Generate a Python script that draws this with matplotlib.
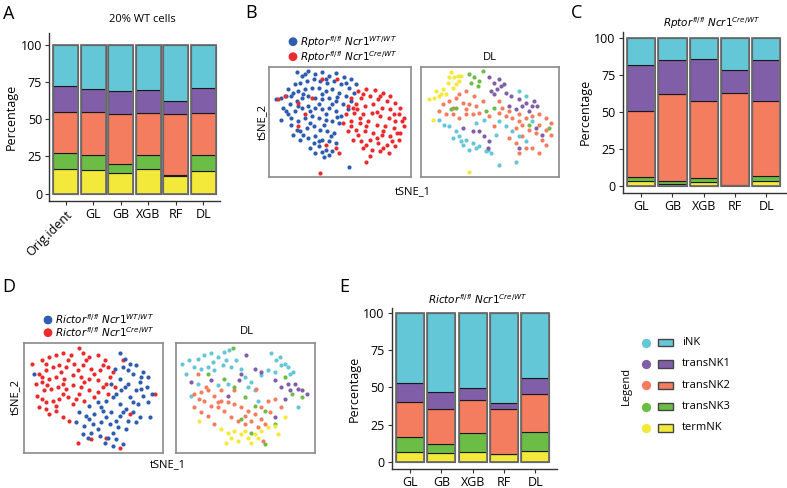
import numpy as np
import matplotlib
matplotlib.use('Agg')
import matplotlib.pyplot as plt
from matplotlib.patches import Rectangle

plt.rcParams['font.family'] = ['Open Sans', 'DejaVu Sans']
plt.rcParams['mathtext.fontset'] = 'dejavusans'

W, H = 787, 488

classes = ['termNK', 'transNK3', 'transNK2', 'transNK1', 'iNK']
colors = ['#F3E93A', '#6BBD45', '#F47C5F', '#815FA8', '#64C7D7']
legend_order = ['iNK', 'transNK1', 'transNK2', 'transNK3', 'termNK']

# panel A: 20% WT cells (termNK, transNK3, transNK2, transNK1, iNK)
a_labels = ['Orig.ident', 'GL', 'GB', 'XGB', 'RF', 'DL']
a_term = [16.4, 16.0, 13.5, 16.4, 11.9, 15.0]
a_tr3 = [11.2, 9.8, 6.1, 9.4, 0.3, 10.8]
a_tr2 = [27.0, 28.8, 34.1, 28.6, 41.5, 28.6]
a_tr1 = [17.5, 15.7, 15.5, 15.5, 8.8, 16.4]
a_ink = [27.9, 29.7, 30.8, 30.1, 37.5, 29.2]

# panel C: Rptor
c_labels = ['GL', 'GB', 'XGB', 'RF', 'DL']
c_term = [3.2, 1.4, 2.7, 0.5, 3.2]
c_tr3 = [3.3, 1.8, 2.7, 0.2, 4.0]
c_tr2 = [44.4, 59.4, 52.0, 62.6, 50.2]
c_tr1 = [30.9, 22.5, 28.9, 15.5, 27.7]
c_ink = [18.2, 14.9, 13.7, 21.2, 14.9]

# panel E: Rictor
e_labels = ['GL', 'GB', 'XGB', 'RF', 'DL']
e_term = [6.3, 5.6, 6.7, 4.9, 7.4]
e_tr3 = [10.6, 6.1, 12.4, 0.3, 12.8]
e_tr2 = [23.5, 24.0, 22.2, 30.1, 25.2]
e_tr1 = [12.4, 11.5, 8.1, 4.0, 10.8]
e_ink = [47.2, 52.8, 50.6, 60.7, 43.8]

# tSNE points (box coords, y down)
b_blue = [(85,25),(100,35),(120,22),(140,30),(160,25),(180,35),(200,28),(225,40),(245,45),(260,60),
          (60,75),(80,60),(95,55),(115,50),(135,45),(155,50),(175,55),(195,50),(215,60),(240,70),(255,85),
          (25,105),(40,100),(55,95),(75,85),(90,80),(110,75),(130,70),(150,72),(170,80),(190,75),(210,85),(230,95),(245,110),
          (45,130),(65,120),(85,110),(100,100),(120,95),(140,100),(160,105),(180,100),(200,110),(220,120),(235,135),
          (40,165),(60,150),(80,140),(100,130),(120,125),(140,130),(160,135),(180,130),(200,140),(215,155),
          (70,180),(90,170),(110,160),(130,155),(150,160),(170,165),(190,170),(210,175),
          (75,210),(95,200),(115,190),(135,185),(155,195),(175,200),(195,205),
          (95,225),(120,220),(140,215),(160,225),(180,230),(200,235),
          (125,250),(150,245),(170,255),(190,260),(140,265),(165,275),(238,305),
          (110,30),(170,45),(230,55),(70,95),(105,88),(160,88),(205,98),(55,140),(90,125),(150,118),(190,120),
          (70,160),(125,140),(170,148),(205,158),(85,195),(125,175),(165,180),(105,210),(150,230),(185,215),
          (135,235),(160,262),(180,270)]
b_red = [(265,80),(290,75),(315,78),(340,85),(360,95),(245,100),(275,100),(300,95),(325,105),(350,110),(375,115),(390,130),
         (235,125),(260,120),(285,125),(310,120),(335,130),(360,135),(385,150),(400,160),
         (230,150),(255,145),(280,150),(305,145),(330,155),(355,160),(375,170),(400,185),
         (220,175),(245,170),(270,175),(295,170),(320,180),(345,185),(370,190),(390,205),
         (235,200),(260,195),(285,200),(310,205),(335,210),(360,215),(385,225),
         (250,225),(275,230),(300,225),(325,235),(350,240),(375,245),
         (280,250),(305,255),(330,260),(355,265),(300,272),(290,292),(155,323),
         (30,105),(50,95),(90,115),(160,45),(205,45),(130,100),(110,150),(90,185),(200,250),(210,265),(170,240),(250,130),
         (280,88),(330,95),(262,135),(320,142),(372,150),(245,185),(290,185),(340,198),(380,205),(265,210),
         (320,220),(365,230),(290,240),(340,250),(395,170),(270,160)]

b_dl = {
    'termNK': [(95,25),(105,40),(120,50),(85,55),(70,75),(50,80),(30,105),(45,100),(60,95),(80,90),(100,70),
               (110,60),(90,40),(125,35),(40,165),(150,322),(115,35),(65,90)],
    'transNK3': [(150,30),(165,40),(155,55),(180,50),(110,130),(95,135),(225,130),(200,140),(330,180),(390,190),
                 (190,20),(175,65)],
    'transNK1': [(210,40),(225,55),(240,45),(255,60),(235,75),(215,80),(260,85),(275,95),(300,105),(320,115),
                 (345,110),(355,125),(270,125),(290,135),(330,140),(195,215),(210,230),(205,250),(180,200),
                 (160,200),(370,210),(300,250),(130,190),(350,190),(245,65),(225,90),(310,125),(340,125)],
    'iNK': [(100,220),(120,215),(140,225),(160,235),(180,245),(200,260),(215,265),(150,255),(130,240),(110,200),
            (90,185),(75,180),(60,165),(240,170),(260,185),(280,200),(300,215),(320,230),(240,300),(290,290),
            (230,210),(195,165),(170,175),(300,80),(320,95),(340,170),(125,230),(170,250),(205,255)],
    'transNK2': [(70,120),(90,110),(110,100),(130,115),(150,120),(170,125),(190,110),(60,140),(80,150),(100,150),
                 (120,160),(140,150),(160,150),(180,145),(210,155),(240,145),(260,155),(280,160),(300,150),(320,160),
                 (340,155),(360,150),(380,160),(395,175),(250,130),(270,140),(310,180),(330,195),(350,205),(370,225),
                 (380,240),(290,190),(310,215),(270,220),(340,250),(360,265),(395,210),(300,265),(120,90),(140,80),
                 (165,95),(240,110),(225,185),(290,235),(100,130),(140,135),(300,170),(360,180),(380,195),(320,250)],
}

d_red = [(30,70),(60,60),(80,50),(100,45),(120,40),(145,45),(170,25),(180,40),(200,50),(225,45),(245,60),
         (50,100),(70,90),(90,80),(110,75),(130,80),(155,70),(180,75),(205,85),(230,90),(255,80),(270,95),
         (40,130),(60,125),(80,115),(100,110),(125,115),(150,105),(175,110),(200,115),(225,120),(250,130),(275,140),
         (45,165),(65,150),(85,145),(105,140),(130,145),(150,135),(175,140),(200,150),(225,155),(255,160),
         (50,200),(70,185),(90,180),(110,175),(135,170),(160,175),(185,180),
         (80,220),(100,210),(120,230),(140,240),(165,305),(205,295),(250,290),(290,320),(300,60),(395,160),(320,220),
         (70,70),(135,60),(190,60),(240,75),(60,110),(115,95),(165,90),(215,100),(260,110),(75,135),(120,130),
         (185,125),(240,140),(60,175),(120,160),(170,160),(215,170),(70,205),(100,195),(150,190)]
d_blue = [(290,40),(305,55),(320,70),(340,75),(360,95),(375,110),(300,80),(275,85),(330,100),(350,125),(370,140),
          (385,160),(290,115),(315,130),(340,150),(360,165),(375,185),(265,130),(295,150),(320,170),(345,190),
          (200,195),(225,185),(250,180),(270,170),(290,190),(310,205),(330,215),(350,230),
          (170,215),(190,225),(215,220),(240,210),(265,215),(290,225),(315,240),(340,245),
          (160,245),(185,255),(210,250),(235,245),(260,250),(285,260),(310,265),
          (180,280),(205,275),(230,285),(255,290),(280,295),(300,310),(270,315),(35,100),(380,230),
          (315,90),(355,110),(305,140),(355,145),(280,160),(330,185),(235,200),(300,215),(200,235),(250,230),
          (280,240),(225,265),(270,275),(195,290),(245,305)]

d_dl = {
    'iNK': [(25,70),(45,60),(70,55),(90,45),(110,40),(130,50),(150,35),(165,30),(185,60),(80,85),(100,80),(120,90),
            (145,75),(170,80),(200,85),(210,110),(230,125),(240,150),(250,180),(290,40),(305,60),(320,75),(340,80),
            (355,95),(330,70),(300,95),(280,90),(260,105),(70,130),(50,165),(130,135),(160,130),(370,200),(35,100),
            (60,80),(115,65),(155,60),(315,50),(345,100),(220,140)],
    'transNK1': [(215,45),(240,85),(260,95),(300,120),(320,140),(345,150),(360,130),(380,150),(395,160),(200,100),
                 (195,120),(330,175),(300,230),(110,120),(160,165),(50,125),(370,145),(340,130)],
    'transNK2': [(60,160),(80,155),(100,150),(120,165),(140,180),(160,185),(180,190),(200,200),(220,210),(240,220),
                 (260,200),(280,180),(300,175),(90,180),(110,195),(130,200),(150,210),(60,200),(80,215),(100,225),
                 (170,230),(190,240),(210,250),(230,240),(250,260),(270,250),(120,250),(285,215),(320,200),(245,145),
                 (180,150),(140,150),(70,100),(265,300),(75,175),(130,185),(210,225),(260,235),(95,140)],
    'transNK3': [(175,25),(100,100),(150,115),(180,140),(210,170),(240,195),(270,210),(200,235),(300,250),(350,160),
                 (380,170),(330,110),(270,310),(230,275)],
    'termNK': [(75,240),(140,265),(160,275),(180,270),(200,280),(220,290),(240,280),(260,270),(280,260),(300,255),
               (330,230),(230,305),(155,305),(190,300),(310,280),(170,290),(250,290),(210,270)],
}

fig = plt.figure(figsize=(W / 100, H / 100), dpi=100)


def px_axes(x0, y0, x1, y1):
    return fig.add_axes([x0 / W, 1 - y1 / H, (x1 - x0) / W, (y1 - y0) / H])


def ftext(x, y, s, **kw):
    fig.text(x / W, 1 - y / H, s, **kw)


def stacked(ax, labels, series, ylim, xlim):
    x = np.arange(len(labels))
    bottom = np.zeros(len(labels))
    for vals, col in zip(series, colors):
        ax.bar(x, vals, 0.9, bottom=bottom, color=col, edgecolor='#1a1a1a', linewidth=0.8)
        bottom += np.array(vals)
    ax.bar(x, bottom, 0.9, fill=False, edgecolor='#6f6f6f', linewidth=1.3)
    ax.set_ylim(*ylim)
    ax.set_xlim(*xlim)
    ax.set_yticks([0, 25, 50, 75, 100])
    ax.set_xticks(x)
    ax.set_xticklabels(labels)
    for s in ['top', 'right']:
        ax.spines[s].set_visible(False)
    for s in ['left', 'bottom']:
        ax.spines[s].set_color('#333333')
        ax.spines[s].set_linewidth(1.0)
    ax.tick_params(labelsize=9, length=3, color='#333333', pad=2)
    ax.set_ylabel('Percentage', fontsize=9, labelpad=2)


# A
axA = px_axes(49, 33, 220, 201)
stacked(axA, a_labels, [a_term, a_tr3, a_tr2, a_tr1, a_ink], (-5, 108), (-0.6, 5.6))
lab0 = axA.get_xticklabels()[0]
lab0.set_rotation(45)
lab0.set_ha('right')
lab0.set_va('top')
lab0.set_rotation_mode('anchor')
ftext(142, 19, '20% WT cells', ha='center', va='center', fontsize=8)
ftext(3, 14, 'A', ha='left', va='center', fontsize=13)

# C
axC = px_axes(622.7, 31.7, 787, 192.7)
stacked(axC, c_labels, [c_term, c_tr3, c_tr2, c_tr1, c_ink], (-4.4, 104.5), (-0.59, 4.66))
ftext(712, 23, r'$\mathit{Rptor}^{\mathit{fl/fl}}\ \mathit{Ncr1}^{\mathit{Cre/WT}}$', ha='center', va='center', fontsize=7.5)
ftext(571, 13, 'C', ha='left', va='center', fontsize=13)

# E
axE = px_axes(391.7, 308, 557, 469)
stacked(axE, e_labels, [e_term, e_tr3, e_tr2, e_tr1, e_ink], (-5, 103.6), (-0.58, 4.69))
ftext(478, 300, r'$\mathit{Rictor}^{\mathit{fl/fl}}\ \mathit{Ncr1}^{\mathit{Cre/WT}}$', ha='center', va='center', fontsize=7.5)
ftext(339, 287, 'E', ha='left', va='center', fontsize=13)


def tsne_box(x0, y0, x1, y1):
    ax = px_axes(x0, y0, x1, y1)
    ax.set_xlim(5, 420)
    ax.set_ylim(335, 8)
    ax.set_xticks([])
    ax.set_yticks([])
    for s in ax.spines.values():
        s.set_color('#8a8a8a')
        s.set_linewidth(1.2)
    return ax


def pts(ax, p, col):
    p = np.array(p)
    ax.scatter(p[:, 0], p[:, 1], s=9, color=col, linewidths=0)


cmap = dict(zip(classes, colors))
blue, red = '#2E5DAF', '#EA2A2D'

# B
axB1 = tsne_box(269.3, 66.7, 410.7, 176.7)
pts(axB1, b_blue, blue)
pts(axB1, b_red, red)
axB2 = tsne_box(421, 66.7, 559, 176.7)
for k in ['transNK2', 'iNK', 'transNK1', 'transNK3', 'termNK']:
    pts(axB2, b_dl[k], cmap[k])
ftext(245, 13, 'B', ha='left', va='center', fontsize=13)
ftext(490, 58, 'DL', ha='center', va='center', fontsize=8)
ftext(413, 192, 'tSNE_1', ha='center', va='center', fontsize=8)
ftext(262, 122, 'tSNE_2', ha='center', va='center', fontsize=8, rotation=90)

# legend dots drawn on an overlay axes in pixel coords
axO = fig.add_axes([0, 0, 1, 1], zorder=-1)
axO.set_xlim(0, W)
axO.set_ylim(H, 0)
axO.axis('off')
axO.scatter([293, 293, 48, 48], [41.7, 56.7, 320, 332.7], s=40, color=[blue, red, blue, red], linewidths=0)

ftext(300, 41.7, r'$\mathit{Rptor}^{\mathit{fl/fl}}\ \mathit{Ncr1}^{\mathit{WT/WT}}$', ha='left', va='center', fontsize=7.5)
ftext(300, 56.7, r'$\mathit{Rptor}^{\mathit{fl/fl}}\ \mathit{Ncr1}^{\mathit{Cre/WT}}$', ha='left', va='center', fontsize=7.5)

# D
axD1 = tsne_box(24, 342.7, 163.3, 452.7)
pts(axD1, d_red, red)
pts(axD1, d_blue, blue)
axD2 = tsne_box(175.7, 342.7, 315, 452.7)
for k in ['iNK', 'transNK2', 'transNK1', 'transNK3', 'termNK']:
    pts(axD2, d_dl[k], cmap[k])
ftext(2, 287, 'D', ha='left', va='center', fontsize=13)
ftext(247, 331, 'DL', ha='center', va='center', fontsize=8)
ftext(168, 465, 'tSNE_1', ha='center', va='center', fontsize=8)
ftext(15, 397, 'tSNE_2', ha='center', va='center', fontsize=8, rotation=90)
ftext(55, 320, r'$\mathit{Rictor}^{\mathit{fl/fl}}\ \mathit{Ncr1}^{\mathit{WT/WT}}$', ha='left', va='center', fontsize=7.5)
ftext(55, 332.7, r'$\mathit{Rictor}^{\mathit{fl/fl}}\ \mathit{Ncr1}^{\mathit{Cre/WT}}$', ha='left', va='center', fontsize=7.5)

# legend
axL = px_axes(615, 330, 760, 440)
axL.set_xlim(615, 760)
axL.set_ylim(440, 330)
axL.axis('off')
for i, name in enumerate(legend_order):
    y = 342.7 + i * 21.3
    col = cmap[name]
    axL.scatter([645.7], [y], s=45, color=col, linewidths=0)
    axL.add_patch(Rectangle((657.7, y - 3.7), 15, 7.4, facecolor=col, edgecolor='#444444', linewidth=1))
    axL.text(681.7, y, name, ha='left', va='center', fontsize=8)
ftext(626, 386, 'Legend', ha='center', va='center', fontsize=8, rotation=90)

fig.savefig('out.png', dpi=100)
